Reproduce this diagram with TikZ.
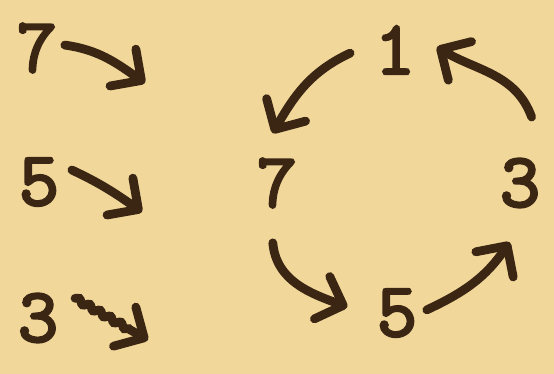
\documentclass[tikz,border=0pt]{standalone}
\usepackage{fontspec}
\newfontfamily\machine[FakeBold=3]{lmmono10-regular.otf}
\usetikzlibrary{arrows.meta,calc,decorations.pathmorphing}
\definecolor{parchemin}{HTML}{F2D79B}
\definecolor{encre}{HTML}{3A2613}
\begin{document}
\begin{tikzpicture}
    \tikzstyle{chiffre} = [inner sep=0pt, text=encre, font=\fontsize{44}{44}\selectfont\machine\bfseries]
    \tikzstyle{fleche} = [draw=encre, line width=5pt, line cap=round, -{Straight Barb[length=4.5mm,width=9mm,round]}]

    \fill[parchemin] (0,0) rectangle (11.08,-7.48);
    \useasboundingbox (0,0) rectangle (11.08,-7.48);

    \node (l7) [chiffre] at (0.74,-0.96) {7};
    \node (l5) [chiffre] at (0.78,-3.64) {5};
    \node (l3) [chiffre] at (0.76,-6.36) {3};
    \coordinate (e7) at (2.90,-1.66);
    \coordinate (e5) at (2.84,-4.24);
    \coordinate (e3) at (2.96,-6.80);

    \draw [fleche] ($(l7)+(6:0.56)$) to[out=-8,in=145] (e7);
    \draw [fleche] ($(l5)+(20:0.70)$) to[out=-25,in=145] (e5);
    \draw [fleche, decorate, decoration={snake,amplitude=0.4mm,segment length=2.4mm,post length=4mm}] ($(l3)+(28:0.84)$) -- (e3);

    % le cycle
    \node (c1) [chiffre] at (7.90,-1.00) {1};
    \node (c7) [chiffre] at (5.54,-3.66) {7};
    \node (c3) [chiffre] at (10.40,-3.66) {3};
    \node (c5) [chiffre] at (7.94,-6.26) {5};

    \draw [fleche] ($(c1)+(184:0.9)$) to[out=205,in=60] ($(c7)+(95:1.0)$);
    \draw [fleche] ($(c7)+(266:1.2)$) to[out=-85,in=160] ($(c5)+(173:1.0)$);
    \draw [fleche] ($(c5)+(6:0.6)$) to[out=25,in=236] ($(c3)+(260:1.2)$);
    \draw [fleche] ($(c3)+(80:1.34)$) to[out=110,in=-31] ($(c1)+(4:0.84)$);
\end{tikzpicture}
\end{document}
